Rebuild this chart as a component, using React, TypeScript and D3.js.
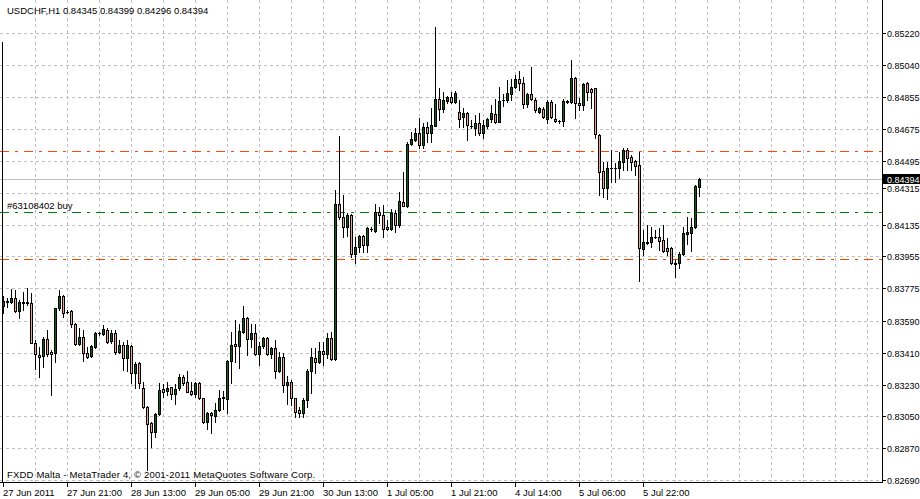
import React from "react";
import * as d3 from "d3";

const symbolTitle = "USDCHF,H1  0.84345 0.84399 0.84296 0.84394";
const footerText = "FXDD Malta - MetaTrader 4, \u00a9 2001-2011 MetaQuotes Software Corp.";

const opens = [
0.83674,0.83701,0.83699,0.83718,0.83648,0.83695,0.83693,0.83689,0.83467,0.83397,
0.83391,0.83486,0.83416,0.83410,0.83661,0.83731,0.83640,0.83646,0.83570,0.83457,
0.83501,0.83406,0.83391,0.83444,0.83520,0.83516,0.83538,0.83478,0.83523,0.83416,
0.83454,0.83378,0.83448,0.83293,0.83350,0.83209,0.83105,0.83011,0.82963,0.83061,
0.83205,0.83195,0.83216,0.83175,0.83209,0.83271,0.83243,0.83193,0.83175,0.83239,
0.83152,0.83016,0.83069,0.83054,0.83086,0.83156,0.83146,0.83363,0.83457,0.83448,
0.83529,0.83604,0.83486,0.83520,0.83401,0.83448,0.83491,0.83401,0.83439,0.83307,
0.83388,0.83227,0.83246,0.83152,0.83086,0.83071,0.83143,0.83308,0.83378,0.83359,
0.83420,0.83401,0.83491,0.83376,0.84251,0.84176,0.84123,0.84189,0.83968,0.84010,
0.84070,0.84019,0.84110,0.84100,0.84206,0.84189,0.84123,0.84108,0.84198,0.84132,
0.84260,0.84238,0.84590,0.84613,0.84651,0.84585,0.84685,0.84651,0.84692,0.84843,
0.84787,0.84836,0.84854,0.84830,0.84772,0.84741,0.84764,0.84692,0.84679,0.84707,
0.84655,0.84692,0.84730,0.84758,0.84717,0.84837,0.84839,0.84873,0.84911,0.84956,
0.84937,0.84817,0.84873,0.84839,0.84770,0.84787,0.84734,0.84828,0.84734,0.84722,
0.84723,0.84830,0.84830,0.84962,0.84820,0.84811,0.84933,0.84902,0.84905,0.84641,
0.84437,0.84343,0.84453,0.84456,0.84453,0.84487,0.84557,0.84517,0.84494,0.84472,
0.83997,0.84034,0.84034,0.84063,0.84066,0.84047,0.84004,0.84000,0.83916,0.83916,
0.83966,0.84082,0.84085,0.84119,0.84345];

const highs = [
0.83731,0.83718,0.83768,0.83765,0.83708,0.83755,0.83774,0.83746,0.83482,0.83444,
0.83501,0.83538,0.83425,0.83663,0.83765,0.83736,0.83652,0.83652,0.83576,0.83548,
0.83538,0.83444,0.83454,0.83529,0.83529,0.83567,0.83548,0.83538,0.83538,0.83482,
0.83472,0.83482,0.83454,0.83359,0.83359,0.83246,0.83108,0.83016,0.83067,0.83237,
0.83233,0.83246,0.83218,0.83231,0.83290,0.83284,0.83307,0.83246,0.83246,0.83246,
0.83155,0.83077,0.83077,0.83124,0.83199,0.83193,0.83366,0.83529,0.83595,0.83572,
0.83674,0.83614,0.83570,0.83570,0.83472,0.83501,0.83497,0.83444,0.83482,0.83416,
0.83406,0.83280,0.83256,0.83155,0.83105,0.83155,0.83316,0.83435,0.83435,0.83472,
0.83472,0.83520,0.83529,0.84330,0.84636,0.84302,0.84198,0.84193,0.84066,0.84076,
0.84076,0.84123,0.84119,0.84251,0.84236,0.84245,0.84161,0.84221,0.84217,0.84321,
0.84434,0.84604,0.84660,0.84681,0.84736,0.84707,0.84717,0.84792,0.85254,0.84905,
0.84887,0.84862,0.84887,0.84892,0.84839,0.84792,0.84773,0.84726,0.84754,0.84764,
0.84726,0.84736,0.84811,0.84843,0.84915,0.84873,0.84952,0.84956,0.84981,0.85005,
0.84971,0.84881,0.85024,0.84849,0.84798,0.84798,0.84839,0.84839,0.84817,0.84726,
0.84843,0.84839,0.85066,0.84971,0.84853,0.84933,0.84943,0.84909,0.84909,0.84645,
0.84487,0.84487,0.84557,0.84481,0.84543,0.84566,0.84566,0.84528,0.84500,0.84547,
0.84104,0.84132,0.84123,0.84104,0.84114,0.84132,0.84060,0.84010,0.83934,0.83982,
0.84123,0.84179,0.84170,0.84358,0.84399];

const lows = [
0.83633,0.83670,0.83689,0.83642,0.83604,0.83652,0.83680,0.83463,0.83316,0.83275,
0.83331,0.83391,0.83171,0.83359,0.83652,0.83614,0.83633,0.83557,0.83454,0.83454,
0.83363,0.83378,0.83384,0.83435,0.83510,0.83510,0.83463,0.83463,0.83403,0.83406,
0.83312,0.83308,0.83237,0.83209,0.83209,0.83095,0.82747,0.82879,0.82935,0.83058,
0.83161,0.83171,0.83148,0.83122,0.83197,0.83227,0.83186,0.83171,0.83161,0.83148,
0.83011,0.82979,0.82958,0.83020,0.83080,0.83092,0.83067,0.83237,0.83359,0.83322,
0.83523,0.83397,0.83444,0.83397,0.83340,0.83435,0.83397,0.83378,0.83265,0.83303,
0.83190,0.83118,0.83114,0.83048,0.83048,0.83048,0.83105,0.83180,0.83297,0.83350,
0.83340,0.83378,0.83369,0.83370,0.84164,0.84063,0.84070,0.83953,0.83919,0.83982,
0.83982,0.83982,0.84100,0.84094,0.84142,0.84063,0.84104,0.84104,0.84095,0.84123,
0.84240,0.84236,0.84585,0.84605,0.84566,0.84566,0.84604,0.84604,0.84690,0.84726,
0.84773,0.84824,0.84821,0.84821,0.84689,0.84689,0.84613,0.84679,0.84641,0.84641,
0.84622,0.84679,0.84717,0.84707,0.84713,0.84805,0.84830,0.84839,0.84905,0.84896,
0.84792,0.84802,0.84839,0.84773,0.84764,0.84736,0.84707,0.84736,0.84717,0.84707,
0.84692,0.84820,0.84820,0.84736,0.84783,0.84783,0.84839,0.84796,0.84622,0.84302,
0.84293,0.84279,0.84377,0.84374,0.84400,0.84443,0.84443,0.84443,0.84415,0.83816,
0.83963,0.84023,0.84010,0.84059,0.83991,0.83978,0.83963,0.83910,0.83840,0.83887,
0.83963,0.84023,0.83985,0.84113,0.84296];

const closes = [
0.83701,0.83698,0.83718,0.83648,0.83695,0.83693,0.83694,0.83467,0.83403,0.83384,
0.83486,0.83403,0.83403,0.83661,0.83731,0.83633,0.83642,0.83570,0.83457,0.83501,
0.83406,0.83388,0.83448,0.83523,0.83523,0.83542,0.83472,0.83520,0.83416,0.83454,
0.83382,0.83454,0.83293,0.83346,0.83237,0.83105,0.83007,0.82964,0.83061,0.83199,
0.83190,0.83210,0.83175,0.83205,0.83271,0.83241,0.83190,0.83175,0.83239,0.83152,
0.83016,0.83069,0.83058,0.83086,0.83156,0.83158,0.83363,0.83452,0.83446,0.83533,
0.83604,0.83486,0.83523,0.83401,0.83448,0.83491,0.83401,0.83439,0.83307,0.83388,
0.83227,0.83246,0.83152,0.83077,0.83071,0.83143,0.83308,0.83384,0.83359,0.83420,
0.83401,0.83491,0.83373,0.84251,0.84176,0.84123,0.84189,0.83968,0.84010,0.84070,
0.84019,0.84113,0.84108,0.84206,0.84187,0.84108,0.84108,0.84198,0.84132,0.84268,
0.84242,0.84590,0.84617,0.84651,0.84585,0.84685,0.84651,0.84698,0.84843,0.84787,
0.84839,0.84854,0.84830,0.84881,0.84730,0.84768,0.84698,0.84694,0.84707,0.84651,
0.84696,0.84730,0.84764,0.84717,0.84834,0.84839,0.84881,0.84911,0.84956,0.84934,
0.84817,0.84873,0.84843,0.84783,0.84794,0.84745,0.84828,0.84745,0.84721,0.84723,
0.84836,0.84832,0.84962,0.84820,0.84811,0.84928,0.84883,0.84886,0.84645,0.84434,
0.84343,0.84453,0.84456,0.84457,0.84494,0.84557,0.84513,0.84490,0.84468,0.84000,
0.84034,0.84032,0.84063,0.84066,0.84042,0.83985,0.83985,0.83916,0.83914,0.83966,
0.84085,0.84095,0.84119,0.84353,0.84394];

const priceTicks = [0.85220,0.85040,0.84855,0.84675,0.84495,0.84315,0.84135,0.83955,0.83775,0.83590,0.83410,0.83230,0.83050,0.82870,0.82690];
const timeLabels = ["27 Jun 2011","27 Jun 21:00","28 Jun 13:00","29 Jun 05:00","29 Jun 21:00","30 Jun 13:00","1 Jul 05:00","1 Jul 21:00","4 Jul 14:00","5 Jul 06:00","5 Jul 22:00"];
const timeLabelBars = [0,16,32,48,64,80,96,112,128,144,160];
const stopLevels = [0.84552, 0.83942];
const orderLevel = 0.84207;
const orderLabel = "#63108402 buy";

const W = 920, H = 499;
const FONT = "Tahoma, 'Liberation Sans', Arial, sans-serif";
const FS = 9.5;
const BULL = "#0b5e0b";
const BEAR = "#e8a898";
const GRID = "#c0c0c0";
const STOP = "rgb(255,69,0)";
const ORDER = "rgb(0,128,0)";

// dash-dot segments (start offset, length) in one 24px period
const DASH_DOT = [[0, 9], [15, 3]];

function DashDot({ y, x0, x1, color }: { y: number; x0: number; x1: number; color: string }) {
  const segs: { x: number; w: number }[] = [];
  for (let p = x0; p < x1; p += 24) {
    for (const [s, l] of DASH_DOT) {
      const sx = p + s;
      if (sx >= x1) continue;
      segs.push({ x: sx, w: Math.min(l, x1 - sx) });
    }
  }
  return (
    <g fill={color} shapeRendering="crispEdges">
      {segs.map((s, i) => (
        <rect key={i} x={s.x} y={y} width={s.w} height={1} />
      ))}
    </g>
  );
}

export default function App() {
  const n = closes.length;
  const x = d3.scaleLinear().domain([0, n - 1]).range([3, 3 + 4 * (n - 1)]);
  const y = d3.scaleLinear().domain([0.82690, 0.85220]).range([480, 32.7]);
  const axisX = 882;
  const bottomY = 482;
  const lastPrice = closes[n - 1];
  const py = Math.round(y(lastPrice));

  const vGrid = d3.range(1, 28).map((k) => Math.round(x(8 * k)));

  return (
    <svg width={W} height={H} style={{ position: "absolute", left: 0, top: 0, background: "#fff" }}
      fontFamily={FONT} fontSize={FS}>
      <rect x={0} y={0} width={W} height={H} fill="#fff" />
      <g shapeRendering="crispEdges" style={{ stroke: GRID }} strokeDasharray="3,3">
        {priceTicks.map((t, i) => (
          <line key={"h" + i} x1={0} x2={axisX} y1={Math.round(y(t)) + 0.5} y2={Math.round(y(t)) + 0.5} />
        ))}
        {vGrid.map((gx, i) => (
          <line key={"v" + i} x1={gx + 0.5} x2={gx + 0.5} y1={0} y2={bottomY} />
        ))}
      </g>
      <rect x={0} y={py} width={axisX} height={1} fill="#c0c0c0" shapeRendering="crispEdges" />
      {stopLevels.map((lv, i) => (
        <DashDot key={"s" + i} y={Math.round(y(lv))} x0={0} x1={axisX} color={STOP} />
      ))}
      <DashDot y={Math.round(y(orderLevel))} x0={0} x1={axisX} color={ORDER} />
      <text x={7} y={Math.round(y(orderLevel)) - 3} fill="#000">{orderLabel}</text>
      <rect x={2} y={42} width={1} height={bottomY - 42} fill="#000" shapeRendering="crispEdges" />
      <g shapeRendering="crispEdges">
        {closes.map((c, i) => {
          const o = opens[i];
          const cx = Math.round(x(i));
          const yh = Math.round(y(highs[i]));
          const yl = Math.round(y(lows[i]));
          const yt = Math.round(y(Math.max(o, c)));
          const yb = Math.round(y(Math.min(o, c)));
          const bull = c >= o;
          return (
            <g key={i}>
              <rect x={cx} y={yh} width={1} height={Math.max(1, yl - yh + 1)} fill="#000" />
              <rect x={cx - 1} y={yt} width={3} height={Math.max(1, yb - yt + 1)} fill="#000" />
              {yb - yt > 1 && (
                <rect x={cx} y={yt + 1} width={1} height={yb - yt - 1} fill={bull ? BULL : BEAR} />
              )}
            </g>
          );
        })}
      </g>
      <g shapeRendering="crispEdges">
        <rect x={axisX} y={0} width={1} height={bottomY + 1} fill="#000" />
        <rect x={0} y={bottomY} width={axisX + 1} height={1} fill="#000" />
      </g>
      {priceTicks.map((t, i) => {
        let ty = Math.round(y(t));
        if (Math.abs(ty - py) < 16) ty = ty > py ? py + 9 : py - 9;
        return (
          <g key={"pt" + i}>
            <rect x={axisX + 1} y={ty} width={3} height={1} fill="#000" shapeRendering="crispEdges" />
            <text x={887} y={ty + 3.5} fill="#000" fontSize={9}>{t.toFixed(5)}</text>
          </g>
        );
      })}
      <rect x={axisX + 1} y={py - 5} width={W - axisX} height={10} fill="#000" shapeRendering="crispEdges" />
      <text x={887} y={py + 3.5} fill="#fff" fontSize={9}>{lastPrice.toFixed(5)}</text>
      {timeLabels.map((lab, i) => {
        const tx = Math.round(x(timeLabelBars[i]));
        return (
          <g key={"tl" + i}>
            <rect x={tx} y={bottomY + 1} width={1} height={4} fill="#000" shapeRendering="crispEdges" />
            <text x={tx} y={495.5} fill="#000">{lab}</text>
          </g>
        );
      })}
      <text x={7} y={14} fill="#000">{symbolTitle}</text>
      <text x={7} y={478} fill="#000" letterSpacing={0.18}>{footerText}</text>
    </svg>
  );
}
